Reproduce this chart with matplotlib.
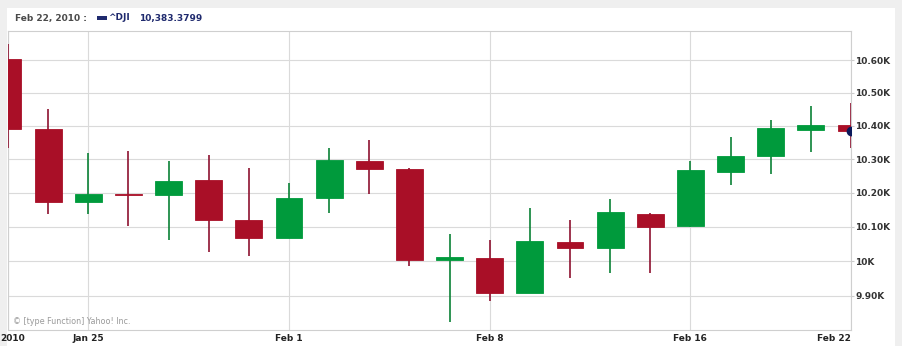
import numpy as np
import matplotlib.pyplot as plt
from matplotlib.patches import Rectangle
from matplotlib.transforms import ScaledTranslation

# ^DJI daily candles, Jan 21 - Feb 22 2010 (trading days)
dates = ["Jan 21", "Jan 22", "Jan 25", "Jan 26", "Jan 27", "Jan 28", "Jan 29",
         "Feb 1", "Feb 2", "Feb 3", "Feb 4", "Feb 5", "Feb 8", "Feb 9", "Feb 10",
         "Feb 11", "Feb 12", "Feb 16", "Feb 17", "Feb 18", "Feb 19", "Feb 22"]
opens = [10603, 10390, 10173, 10197, 10194, 10237, 10121, 10068, 10186, 10293, 10271,
         10004, 10008, 9909, 10056, 10038, 10138, 10101, 10262, 10308, 10388, 10403]
highs = [10649, 10451, 10317, 10324, 10294, 10312, 10274, 10230, 10334, 10357, 10273,
         10079, 10061, 10155, 10120, 10183, 10141, 10294, 10365, 10417, 10461, 10470]
lows = [10334, 10136, 10138, 10103, 10061, 10026, 10015, 10066, 10141, 10195, 9986,
        9826, 9885, 9907, 9950, 9966, 9964, 10099, 10224, 10256, 10320, 10334]
closes = [10390, 10173, 10197, 10194, 10236, 10120, 10067, 10186, 10297, 10270, 10002,
          10013, 9908, 10059, 10039, 10144, 10099, 10269, 10309, 10393, 10402, 10383.38]

x_ticks = ["2010", "Jan 25", "Feb 1", "Feb 8", "Feb 16", "Feb 22"]
y_ticks = [9900, 10000, 10100, 10200, 10300, 10400, 10500, 10600]
y_labels = ["9.90K", "10K", "10.10K", "10.20K", "10.30K", "10.40K", "10.50K", "10.60K"]

W, H = 902, 346
fig = plt.figure(figsize=(W / 100, H / 100), dpi=100, facecolor="#efefef")
fig.patches.append(Rectangle((7 / W, 0), 888 / W, 1 - 8 / H, transform=fig.transFigure,
                             facecolor="white", edgecolor="none", zorder=-5))

ax = fig.add_axes([8 / W, 16 / H, 843 / W, 299 / H])
ax.set_yscale("log")

x = np.arange(len(dates))
o = np.array(opens, dtype=float)
c = np.array(closes, dtype=float)
up = c >= o
body_col = np.where(up, "#009a3c", "#a90f27")
wick_col = np.where(up, "#0b8236", "#8e1230")

ax.vlines(x, lows, highs, colors=wick_col, linewidth=1.2, zorder=2.6)
ax.bar(x, np.abs(c - o), bottom=np.minimum(o, c), width=0.67, color=body_col,
       edgecolor=body_col, linewidth=0.6, zorder=2.7)
ax.plot(x[-1], closes[-1], "o", color="#0b1a5c", markersize=6, zorder=4)

ax.set_xlim(0, len(dates) - 1)
ax.set_ylim(9802, 10690)

pos = [dates.index(d) for d in ["Jan 21", "Jan 25", "Feb 1", "Feb 8", "Feb 16", "Feb 22"]]
ax.set_xticks(pos, x_ticks)
ax.yaxis.set_minor_locator(plt.NullLocator())
ax.set_yticks(y_ticks, y_labels)
ax.yaxis.tick_right()
ax.tick_params(axis="y", length=2, color="#cccccc", pad=1, labelsize=6.5,
               labelcolor="#333333")
ax.tick_params(axis="x", length=0, pad=3, labelsize=6.5, labelcolor="#222222")
for lab in ax.get_xticklabels() + ax.get_yticklabels():
    lab.set_fontweight("bold")
xl = ax.get_xticklabels()
xl[0].set_ha("left")
xl[0].set_transform(xl[0].get_transform() + ScaledTranslation(-8 / 100, 0, fig.dpi_scale_trans))
xl[-1].set_ha("right")

ax.grid(True, color="#dadada", linewidth=0.8, zorder=0)
ax.set_axisbelow(True)
for s in ax.spines.values():
    s.set_color("#cfcfcf")
    s.set_linewidth(0.8)

# header
fig.text(15 / W, 1 - 18 / H, "Feb 22, 2010 :", fontsize=6.5, fontweight="bold",
         color="#4a4a4a", va="center")
fig.patches.append(Rectangle((97 / W, 1 - 19.5 / H), 10 / W, 3.5 / H,
                             transform=fig.transFigure, facecolor="#1f2a6e"))
fig.text(108 / W, 1 - 18 / H, "^DJI", fontsize=6.5, fontweight="bold",
         color="#1f2a6e", va="center")
fig.text(139 / W, 1 - 18 / H, "10,383.3799", fontsize=6.5, fontweight="bold",
         color="#1f2a6e", va="center")

fig.text(13 / W, 1 - 322 / H, "\u00a9 [type Function] Yahoo! Inc.", fontsize=5.8,
         color="#9a9a9a", va="center")

fig.savefig("out.png", dpi=100, facecolor=fig.get_facecolor())
